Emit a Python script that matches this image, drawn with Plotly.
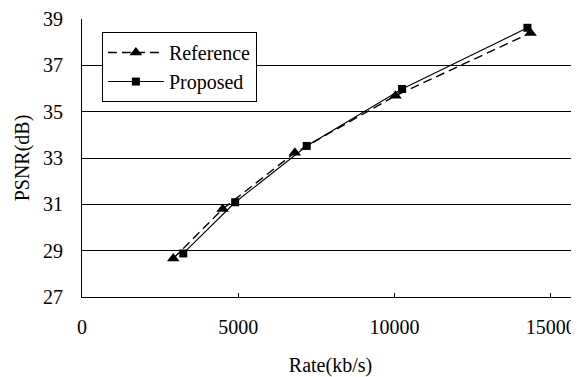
import plotly.graph_objects as go

ref_rate = [2920, 4500, 6810, 10030, 14350]
ref_psnr = [28.66, 30.80, 33.23, 35.69, 38.40]
prop_rate = [3240, 4900, 7190, 10240, 14250]
prop_psnr = [28.88, 31.09, 33.52, 35.98, 38.62]

x_ticks = [0, 5000, 10000, 15000]
y_ticks = [27, 29, 31, 33, 35, 37, 39]

font = dict(family="Liberation Serif", size=20, color="black")

fig = go.Figure()
fig.add_trace(go.Scatter(x=ref_rate, y=ref_psnr, mode="lines+markers", name="Reference",
                         line=dict(color="black", width=1.4, dash="9px,5px"),
                         marker=dict(symbol="triangle-up", size=11, color="black")))
fig.add_trace(go.Scatter(x=prop_rate, y=prop_psnr, mode="lines+markers", name="Proposed",
                         line=dict(color="black", width=1.1),
                         marker=dict(symbol="square", size=8, color="black")))

# page body has an 8px margin, so the figure is sized to fill the remaining window
fig.update_layout(
    width=571, height=369,
    margin=dict(l=74, r=0, t=11, b=80),
    paper_bgcolor="white", plot_bgcolor="white",
    font=font,
    showlegend=True,
    legend=dict(x=0.04, y=0.953, xanchor="left", yanchor="top",
                bordercolor="black", borderwidth=1, bgcolor="white",
                font=font, itemwidth=56, tracegroupgap=0),
    xaxis=dict(range=[0, 15900], tickvals=x_ticks, ticktext=[str(v) for v in x_ticks],
               showgrid=False, zeroline=False, showline=True, linecolor="black", linewidth=1,
               ticks="inside", ticklen=4, tickcolor="black", automargin=False,
               ticklabelstandoff=12,
               title=dict(text="Rate(kb/s)", font=font, standoff=24)),
    yaxis=dict(range=[27, 39], tickvals=y_ticks, ticktext=[str(v) for v in y_ticks],
               showgrid=True, gridcolor="black", gridwidth=1, zeroline=False,
               showline=True, linecolor="black", linewidth=1, ticks="", automargin=False,
               ticklabelstandoff=14,
               title=dict(text="PSNR(dB)", font=font, standoff=8)),
)

fig.write_html("out.html")
